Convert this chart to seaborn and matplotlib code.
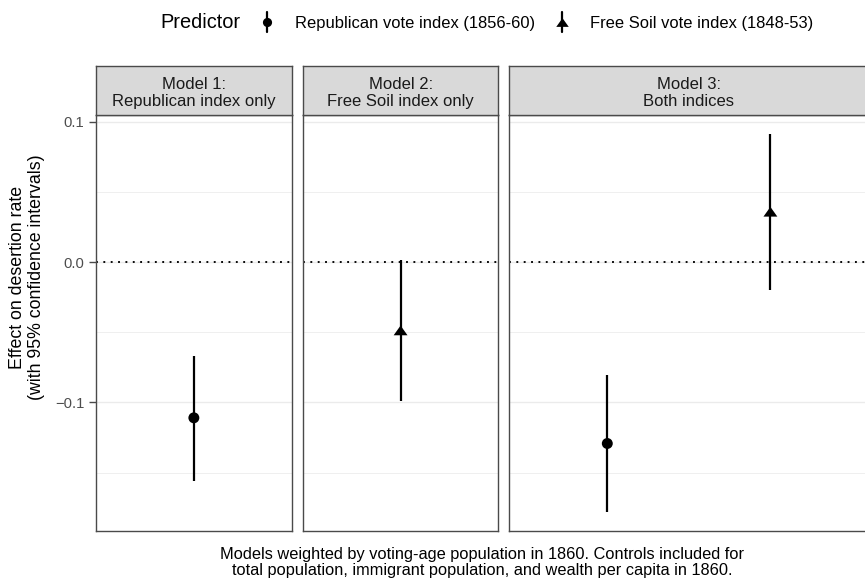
import numpy as np
import pandas as pd
import matplotlib
matplotlib.use("Agg")
import matplotlib.pyplot as plt
from matplotlib.path import Path
import seaborn as sns

# ---- data -------------------------------------------------------------
model_titles = [
    ("Model 1:", "Republican index only"),
    ("Model 2:", "Free Soil index only"),
    ("Model 3:", "Both indices"),
]
predictors = ["Republican vote index (1856-60)", "Free Soil vote index (1848-53)"]

row_model = [0, 1, 2, 2]
row_predictor = [predictors[0], predictors[1], predictors[0], predictors[1]]
estimate = [-0.1110, -0.0487, -0.1293, 0.0359]
ci_low = [-0.1558, -0.0993, -0.1780, -0.0197]
ci_high = [-0.0667, 0.0016, -0.0808, 0.0914]

y_major = [-0.1, 0.0, 0.1]
y_minor = [-0.15, -0.05, 0.05]

caption_lines = [
    "Models weighted by voting-age population in 1860. Controls included for",
    "total population, immigrant population, and wealth per capita in 1860.",
]
y_title_lines = ["Effect on desertion rate", "(with 95% confidence intervals)"]

df = pd.DataFrame({
    "model": row_model,
    "predictor": pd.Categorical(row_predictor, categories=predictors),
    "estimate": estimate,
    "low": ci_low,
    "high": ci_high,
})
df["slot"] = df.groupby("model").cumcount()

# ---- styling ----------------------------------------------------------
sns.set_theme(style="white")
plt.rcParams["font.family"] = ["Liberation Sans", "DejaVu Sans"]
plt.rcParams["axes.unicode_minus"] = True
plt.rcParams["lines.scale_dashes"] = False

W, H = 865, 581
fig = plt.figure(figsize=(W / 100, H / 100), dpi=100)


def rect(x0, y0, x1, y1):
    return [x0 / W, 1 - y1 / H, (x1 - x0) / W, (y1 - y0) / H]


tri = Path([(0, 0.7), (-1, -0.7), (1, -0.7), (0, 0.7)],
           [Path.MOVETO, Path.LINETO, Path.LINETO, Path.CLOSEPOLY])
marker_map = {predictors[0]: "o", predictors[1]: tri}
size_map = {predictors[0]: 62, predictors[1]: 100}

span = np.array(ci_high + ci_low)
pad = 0.05 * (span.max() - span.min())
ylim = (span.min() - pad, span.max() + pad)

unit = 163.1          # pixels per category slot
left = 96.0
gap = 11.0
strip_top, top, bottom = 66.0, 115.0, 530.7
border = "#4A4A4A"

x0 = left
for m, (t1, t2) in enumerate(model_titles):
    sub = df[df["model"] == m]
    n = len(sub)
    x1 = x0 + (n + 0.2) * unit

    ax = fig.add_axes(rect(x0, top, x1, bottom))
    ax.set_xlim(-0.6, n - 0.4)
    ax.set_ylim(*ylim)
    ax.set_yticks(y_major)
    ax.set_yticks(y_minor, minor=True)
    ax.set_yticklabels([f"{v:.1f}".replace("-", "\u2212") for v in y_major])
    ax.set_xticks([])
    ax.grid(which="major", axis="y", color="#EBEBEB", lw=1.0)
    ax.grid(which="minor", axis="y", color="#EFEFEF", lw=0.7)
    ax.set_axisbelow(True)
    for s in ax.spines.values():
        s.set_color(border)
        s.set_linewidth(1.0)
    ax.axhline(0, color="black", lw=1.35, ls=(0, (1.35, 3.95)),
               dash_capstyle="butt", zorder=2)
    ax.vlines(sub["slot"], sub["low"], sub["high"], color="black", lw=1.6, zorder=3)
    sns.scatterplot(data=sub, x="slot", y="estimate", style="predictor",
                    size="predictor", markers=marker_map, sizes=size_map,
                    color="black", edgecolor="none", linewidth=0,
                    legend=False, ax=ax, zorder=4)
    ax.set_xlabel("")
    ax.set_ylabel("")
    ax.tick_params(axis="y", which="minor", length=0)
    if m == 0:
        ax.tick_params(axis="y", which="major", left=True, length=5.0, width=1.0,
                       color=border, labelsize=10.6, labelcolor="#4D4D4D", pad=3.2)
    else:
        ax.tick_params(axis="y", which="both", left=False, labelleft=False)

    sax = fig.add_axes(rect(x0, strip_top, x1, top))
    sax.set_facecolor("#D9D9D9")
    sax.set_xticks([])
    sax.set_yticks([])
    for s in sax.spines.values():
        s.set_color(border)
        s.set_linewidth(1.0)
    sax.set_xlim(0, 1)
    sax.set_ylim(top, strip_top)
    sax.text(0.5, 89.3, t1, ha="center", va="baseline", fontsize=12, color="#1A1A1A")
    sax.text(0.5, 105.7, t2, ha="center", va="baseline", fontsize=12, color="#1A1A1A")

    x0 = x1 + gap

# ---- overlay for legend, axis title and caption -----------------------
ov = fig.add_axes([0, 0, 1, 1])
ov.set_xlim(0, W)
ov.set_ylim(H, 0)
ov.axis("off")

ov.text(160, 28.5, "Predictor", fontsize=14.4, ha="left", va="baseline", color="black")
for xm, label, lx in [(267, predictors[0], 295), (562, predictors[1], 590)]:
    ov.plot([xm, xm], [12, 32], color="black", lw=1.6)
    mk = marker_map[label]
    ms = 6.6 if mk == "o" else 9.0
    ov.plot([xm], [22], marker=mk, ms=ms, color="black", mec="none", ls="none")
    ov.text(lx, 27.8, label, fontsize=11.9, ha="left", va="baseline", color="black")

ymid = 277
ov.text(22, ymid, y_title_lines[0], rotation=90, rotation_mode="anchor",
        ha="center", va="baseline", fontsize=12.8, color="black")
ov.text(41.5, ymid, y_title_lines[1], rotation=90, rotation_mode="anchor",
        ha="center", va="baseline", fontsize=12.8, color="black")

cx = 482
ov.text(cx, 558.5, caption_lines[0], ha="center", va="baseline", fontsize=11.8, color="black")
ov.text(cx, 575.5, caption_lines[1], ha="center", va="baseline", fontsize=11.8, color="black")

fig.savefig("out.png", dpi=100)
